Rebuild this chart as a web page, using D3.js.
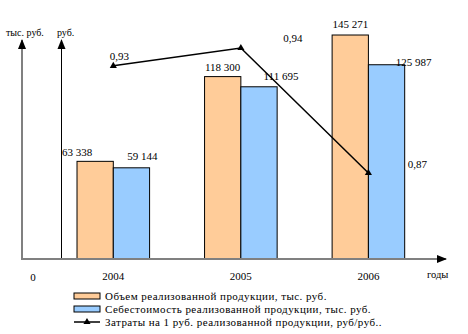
<!DOCTYPE html>
<html>
<head>
<meta charset="utf-8">
<script src="https://cdn.jsdelivr.net/npm/d3@7"></script>
<style>
  body { margin: 0; background: #fff; }
  svg text { font-family: 'Liberation Serif', 'Times New Roman', serif; fill: #000; }
</style>
</head>
<body>
<div id="chart"></div>
<script>
var years = ['2004', '2005', '2006']
var volume = [63338, 118300, 145271]
var cost = [59144, 111695, 125987]
var costPerRub = [0.93, 0.94, 0.87]
var volumeLabels = ['63 338', '118 300', '145 271']
var costLabels = ['59 144', '111 695', '125 987']
var lineLabels = ['0,93', '0,94', '0,87']
var legendNames = [
  'Объем реализованной продукции, тыс. руб.',
  'Себестоимость реализованной продукции, тыс. руб.',
  'Затраты на 1 руб. реализованной продукции, руб/руб..'
]

var colors = ['#FFCC99', '#99CCFF']

var svg = d3.select('#chart').append('svg')
  .attr('width', 468).attr('height', 334)

var x = d3.scaleBand().domain(years).range([51.5, 430.2]).paddingInner(0.431).paddingOuter(0.2)
var y = d3.scaleLinear().domain([0, 160000]).range([259, 12.3])
var y2 = d3.scaleLinear().domain([0.87, 0.94]).range([173, 48])

var bw = x.bandwidth() / 2

// arrow marker
var defs = svg.append('defs')
defs.append('marker').attr('id', 'arr')
  .attr('viewBox', '0 0 10 10').attr('refX', 9).attr('refY', 5)
  .attr('markerWidth', 10).attr('markerHeight', 10)
  .attr('markerUnits', 'userSpaceOnUse')
  .attr('orient', 'auto')
  .append('path').attr('d', 'M0,1L10,5L0,9Z').attr('fill', '#000')

// bars
var g = svg.append('g')
years.forEach(function(yr, i) {
  [volume[i], cost[i]].forEach(function(v, j) {
    g.append('rect')
      .attr('x', x(yr) + j * bw)
      .attr('y', y(v))
      .attr('width', bw)
      .attr('height', y(0) - y(v))
      .attr('fill', colors[j])
      .attr('stroke', '#000')
      .attr('stroke-width', 1)
  })
})

// axes
svg.append('line').attr('x1', 22).attr('x2', 22).attr('y1', 260).attr('y2', 40)
  .attr('stroke', '#808080').attr('stroke-width', 2).attr('marker-end', 'url(#arr)')
svg.append('line').attr('x1', 61.5).attr('x2', 61.5).attr('y1', 259).attr('y2', 40)
  .attr('stroke', '#000').attr('stroke-width', 1).attr('marker-end', 'url(#arr)')
svg.append('line').attr('x1', 21).attr('x2', 446).attr('y1', 259).attr('y2', 259)
  .attr('stroke', '#808080').attr('stroke-width', 2).attr('marker-end', 'url(#arr)')

svg.append('text').attr('x', 6).attr('y', 36).style('font-size', '10px').text('тыс. руб.')
svg.append('text').attr('x', 57).attr('y', 36).style('font-size', '10px').text('руб.')
svg.append('text').attr('x', 33).attr('y', 281).attr('text-anchor', 'middle').style('font-size', '11px').text('0')
svg.append('text').attr('x', 427).attr('y', 278).style('font-size', '10.5px').text('годы')

svg.selectAll('text.year').data(years).join('text')
  .attr('class', 'year')
  .attr('x', function(d) { return x(d) + bw })
  .attr('y', 280)
  .attr('text-anchor', 'middle')
  .style('font-size', '11px')
  .text(function(d) { return d })

// bar value labels (small per-label shifts as in the original)
var volDx = [-18, 0, 0]
var volDy = [-5, -6, -7]
var costDx = [11, 22, 27]
var costDy = [-8, -7, 1]
svg.selectAll('text.vol').data(volume).join('text')
  .attr('class', 'vol')
  .attr('x', function(d, i) { return x(years[i]) + bw / 2 + volDx[i] })
  .attr('y', function(d, i) { return y(d) + volDy[i] })
  .attr('text-anchor', 'middle')
  .style('font-size', '11px')
  .text(function(d, i) { return volumeLabels[i] })
svg.selectAll('text.cost').data(cost).join('text')
  .attr('class', 'cost')
  .attr('x', function(d, i) { return x(years[i]) + bw * 1.5 + costDx[i] })
  .attr('y', function(d, i) { return y(d) + costDy[i] })
  .attr('text-anchor', 'middle')
  .style('font-size', '11px')
  .text(function(d, i) { return costLabels[i] })

// line
var pts = years.map(function(yr, i) { return [x(yr) + bw, y2(costPerRub[i])] })
svg.append('path')
  .attr('d', d3.line()(pts))
  .attr('fill', 'none').attr('stroke', '#000').attr('stroke-width', 1.5)
svg.selectAll('path.mk').data(pts).join('path')
  .attr('class', 'mk')
  .attr('transform', function(d) { return 'translate(' + d + ')' })
  .attr('d', d3.symbol(d3.symbolTriangle, 22))
  .attr('fill', '#000')

var lineDx = [6, 52, 49]
var lineDy = [-6, -6, -5]
svg.selectAll('text.lv').data(costPerRub).join('text')
  .attr('class', 'lv')
  .attr('x', function(d, i) { return pts[i][0] + lineDx[i] })
  .attr('y', function(d, i) { return pts[i][1] + lineDy[i] })
  .attr('text-anchor', 'middle')
  .style('font-size', '11px')
  .text(function(d, i) { return lineLabels[i] })

// legend
var leg = svg.append('g').attr('transform', 'translate(74,0)')
var rows = [296, 309, 322]
legendNames.forEach(function(name, i) {
  if (i < 2) {
    leg.append('rect').attr('x', 0).attr('y', rows[i] - 3).attr('width', 26).attr('height', 6)
      .attr('fill', colors[i]).attr('stroke', '#000')
  } else {
    leg.append('line').attr('x1', 0).attr('x2', 26).attr('y1', rows[i]).attr('y2', rows[i])
      .attr('stroke', '#000').attr('stroke-width', 1.5)
    leg.append('path').attr('transform', 'translate(13,' + rows[i] + ')')
      .attr('d', d3.symbol(d3.symbolTriangle, 22)).attr('fill', '#000')
  }
  leg.append('text').attr('x', 31).attr('y', rows[i] + 3.5)
    .style('font-size', '11px').style('letter-spacing', '0.45px').text(name)
})
</script>
</body>
</html>
